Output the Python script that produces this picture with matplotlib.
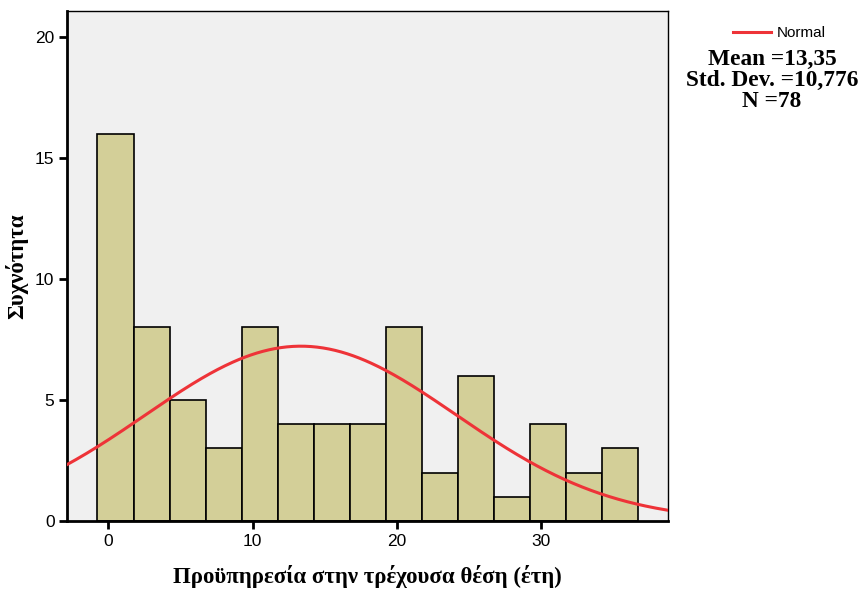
import numpy as np
import matplotlib
matplotlib.use("Agg")
import matplotlib.pyplot as plt

# Data
bin_start = -0.75
bin_width = 2.5
counts = [16, 8, 5, 3, 8, 4, 4, 4, 8, 2, 6, 1, 4, 2, 3]
mean = 13.35
std = 10.776
n = 78
x_ticks = [0, 10, 20, 30]
y_ticks = [0, 5, 10, 15, 20]
xlabel = "Προϋπηρεσία στην τρέχουσα θέση (έτη)"
ylabel = "Συχνότητα"
stats_text = "Mean =13,35\nStd. Dev. =10,776\nN =78"

fig = plt.figure(figsize=(8.64, 5.92), dpi=100)
ax = fig.add_axes([67/864, 1-521/592, (668-67)/864, (521-11)/592])
ax.set_facecolor("#F0F0F0")

edges = bin_start + bin_width*np.arange(len(counts))
ax.bar(edges, counts, width=bin_width, align="edge", color="#D3CF98",
       edgecolor="black", linewidth=1.2, zorder=2)

xlim = (-2.86, 38.8)
xs = np.linspace(xlim[0], xlim[1], 400)
ys = n*bin_width/(std*np.sqrt(2*np.pi))*np.exp(-0.5*((xs-mean)/std)**2)
ax.plot(xs, ys, color="#EE3338", lw=2.2, zorder=3, label="Normal")

ax.set_xlim(*xlim)
ax.set_ylim(0, 21.06)
ax.set_xticks(x_ticks)
ax.set_yticks(y_ticks)
for s in ax.spines.values():
    s.set_linewidth(1.0)
ax.spines["bottom"].set_linewidth(2.0)
ax.spines["left"].set_linewidth(2.0)
ax.tick_params(direction="out", length=6, width=2, labelsize=12.5, pad=3)
for lab in ax.get_xticklabels() + ax.get_yticklabels():
    lab.set_family("Liberation Sans")

ax.set_xlabel(xlabel, family="Liberation Serif", fontweight="bold", fontsize=16.5, labelpad=12)
ax.set_ylabel(ylabel, family="Liberation Serif", fontweight="bold", fontsize=16.5, labelpad=5)

leg = fig.legend(loc="upper left", bbox_to_anchor=(733/864 - 0.0005, 1-26/592), frameon=False,
                 prop={"family": "Liberation Sans", "size": 11}, handlelength=2.5,
                 handletextpad=0.4, borderpad=0, borderaxespad=0)
fig.text(772/864, 1-49/592, stats_text, ha="center", va="top",
         family="Liberation Serif", fontweight="bold", fontsize=16.8, linespacing=1.0)

fig.savefig("out.png", dpi=100)
